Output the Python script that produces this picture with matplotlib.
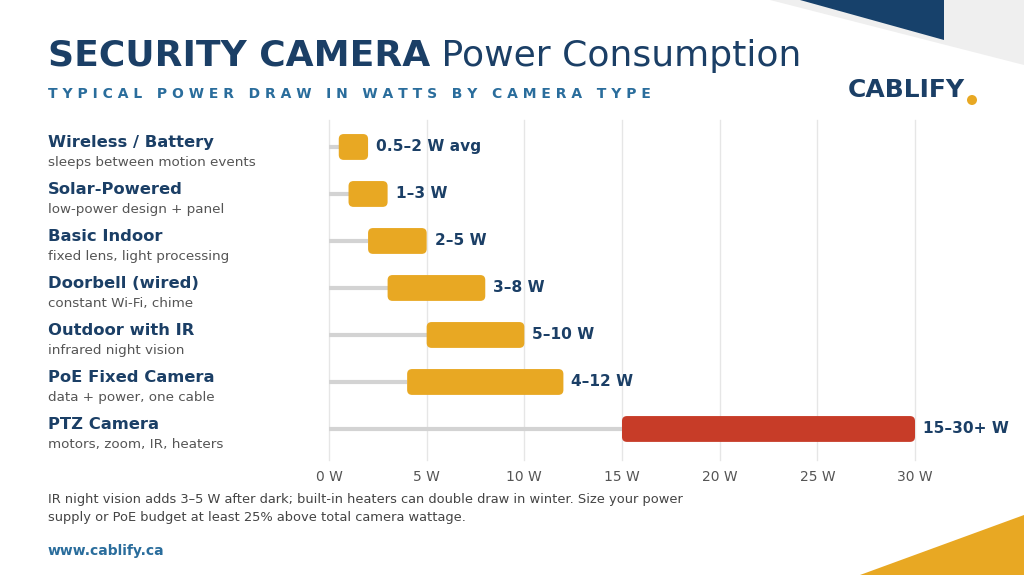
import matplotlib
matplotlib.use("Agg")
import matplotlib.pyplot as plt
from matplotlib.patches import FancyBboxPatch, Polygon, Circle

# data
cameras = ["Wireless / Battery", "Solar-Powered", "Basic Indoor", "Doorbell (wired)",
           "Outdoor with IR", "PoE Fixed Camera", "PTZ Camera"]
notes = ["sleeps between motion events", "low-power design + panel",
         "fixed lens, light processing", "constant Wi-Fi, chime",
         "infrared night vision", "data + power, one cable", "motors, zoom, IR, heaters"]
low_w = [0.5, 1, 2, 3, 5, 4, 15]
high_w = [2, 3, 5, 8, 10, 12, 30]
range_labels = ["0.5–2 W avg", "1–3 W", "2–5 W", "3–8 W", "5–10 W", "4–12 W", "15–30+ W"]
ticks = [0, 5, 10, 15, 20, 25, 30]
tick_labels = ["0 W", "5 W", "10 W", "15 W", "20 W", "25 W", "30 W"]

NAVY = "#1b3f66"
BLUE = "#2a6d9c"
ORANGE = "#e8a823"
RED = "#c73c28"
GRAY = "#555555"

W, H = 1024, 575
fig = plt.figure(figsize=(W / 100, H / 100), dpi=100)
fig.patch.set_facecolor("white")

def px(x, y):
    return (x / W, 1 - y / H)

# corner decorations
fig.patches.append(Polygon([px(770, 0), px(1024, 0), px(1024, 65)], closed=True,
                           transform=fig.transFigure, fc="#efefef", ec="none"))
fig.patches.append(Polygon([px(800, 0), px(944, 0), px(944, 40)], closed=True,
                           transform=fig.transFigure, fc="#17416b", ec="none"))
fig.patches.append(Polygon([px(860, 575), px(1024, 515), px(1024, 575)], closed=True,
                           transform=fig.transFigure, fc=ORANGE, ec="none"))

# axes
ax_l, ax_r, ax_t, ax_b = 329, 915, 120, 460
ax = fig.add_axes([ax_l / W, 1 - ax_b / H, (ax_r - ax_l) / W, (ax_b - ax_t) / H])
ax.set_xlim(0, 30)
ax.set_ylim(6.66, -0.574)
for s in ax.spines.values():
    s.set_visible(False)
ax.set_xticks(ticks)
ax.set_xticklabels(tick_labels, color=GRAY, fontsize=10)
ax.tick_params(axis="x", length=0, pad=7)
ax.set_yticks([])
ax.grid(axis="x", color="#e6e6e6", lw=1)
for gl in ax.get_xgridlines():
    gl.set_clip_on(False)
ax.set_axisbelow(True)

bar_h = 0.55
xpp = 30 / (ax_r - ax_l)
ypp = 7.234 / (ax_b - ax_t)
for i in range(len(cameras)):
    ax.plot([0, low_w[i]], [i, i], color="#d3d3d3", lw=3, solid_capstyle="butt", zorder=2)
    c = RED if i == len(cameras) - 1 else ORANGE
    p = FancyBboxPatch((low_w[i], i - bar_h / 2), high_w[i] - low_w[i], bar_h,
                       boxstyle="round,pad=0,rounding_size=%f" % (5 * xpp),
                       mutation_aspect=ypp / xpp, fc=c, ec="none", zorder=3)
    ax.add_patch(p)
    ax.text(high_w[i] + 8 * xpp, i, range_labels[i], color=NAVY, fontsize=11.1,
            fontweight="bold", va="center", ha="left", zorder=4)
    ax.annotate(cameras[i], xy=(48 / W, i), xycoords=("figure fraction", "data"),
                xytext=(0, 3), textcoords="offset points", color=NAVY,
                fontsize=11.8, fontweight="bold", va="center", ha="left",
                annotation_clip=False)
    ax.annotate(notes[i], xy=(48 / W, i), xycoords=("figure fraction", "data"),
                xytext=(0, -11), textcoords="offset points", color=GRAY,
                fontsize=9.7, va="center", ha="left", annotation_clip=False)

# title
t1 = fig.text(48 / W, 1 - 66 / H, "SECURITY CAMERA", fontsize=26, fontweight="bold",
              color=NAVY, ha="left", va="baseline")
ax.annotate(" Power Consumption", xy=(1, 0), xycoords=t1, fontsize=26,
            color=NAVY, ha="left", va="bottom", annotation_clip=False)

sub = "TYPICAL POWER DRAW IN WATTS BY CAMERA TYPE"
sub_spaced = "   ".join(" ".join(w) for w in sub.split(" "))
fig.text(48 / W, 1 - 94 / H, sub_spaced, fontsize=10, fontweight="bold",
         color=BLUE, ha="left", va="center")

# logo
fig.text(848 / W, 1 - 90 / H, "CABLIFY", fontsize=18, fontweight="bold",
         color=NAVY, ha="left", va="center")
fig.patches.append(Circle((9.72, 5.75 - 1.00), 0.05, transform=fig.dpi_scale_trans,
                          fc=ORANGE, ec="none"))

# footnote
fig.text(48 / W, 1 - 499 / H,
         "IR night vision adds 3–5 W after dark; built-in heaters can double draw in winter. Size your power",
         fontsize=9.35, color="#444444", ha="left", va="center")
fig.text(48 / W, 1 - 518 / H,
         "supply or PoE budget at least 25% above total camera wattage.",
         fontsize=9.35, color="#444444", ha="left", va="center")
fig.text(48 / W, 1 - 551 / H, "www.cablify.ca", fontsize=10, fontweight="bold",
         color=BLUE, ha="left", va="center")

fig.savefig("out.png", dpi=100)
